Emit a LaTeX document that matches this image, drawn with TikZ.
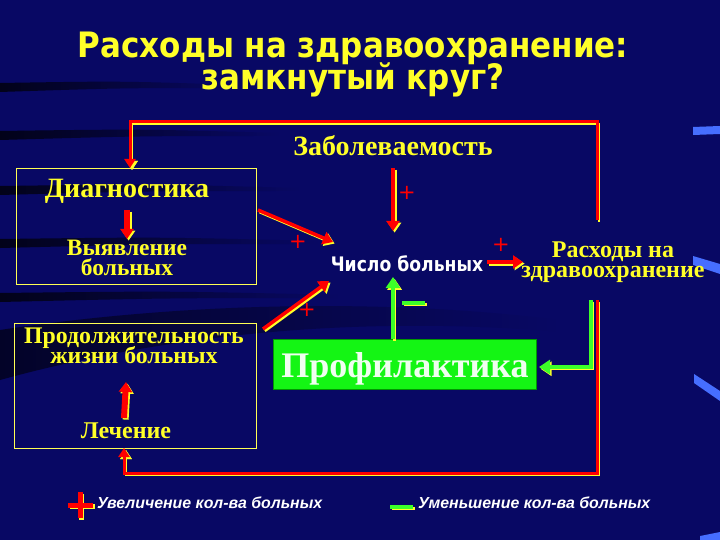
\documentclass[tikz,border=0pt]{standalone}
\usepackage{fontspec}
\setmainfont{Liberation Serif}
\newfontfamily\titlef[FakeStretch=0.885]{DejaVu Sans}
\newfontfamily\sansb{DejaVu Sans}
\newfontfamily\chisf[FakeStretch=0.86]{DejaVu Sans}
\newfontfamily\legf{Liberation Sans}
\newcommand\mynolsl{\lineskiplimit=-30pt\relax}
\usetikzlibrary{arrows.meta}
\definecolor{bg}{RGB}{8,8,100}
\definecolor{ylw}{RGB}{255,255,40}
\definecolor{rd}{RGB}{255,0,0}
\definecolor{grn}{RGB}{60,255,40}
\definecolor{pgrn}{RGB}{20,245,20}
\definecolor{streak}{RGB}{70,110,255}
\tikzset{
  box/.style={draw=ylw!80!white, line width=0.9pt, rectangle, inner sep=0pt},
  ytext/.style={text=ylw, font=\bfseries\fontsize{#1}{20}\selectfont\mynolsl, inner sep=0pt, align=center},
  loopline/.style={draw=rd, line width=3pt, line join=miter,
     preaction={draw=ylw, line width=2.4pt, transform canvas={xshift=2pt,yshift=-2pt}}},
  looparrow/.style={loopline, -{Triangle[length=9pt,width=11pt]},
     preaction={draw=ylw, line width=2.4pt, -{Triangle[length=9pt,width=11pt]}, transform canvas={xshift=2pt,yshift=-2pt}}},
  redarrow/.style={draw=rd, line width=#1, -{Triangle[length=10pt,width=13pt]},
     preaction={draw=ylw, line width=#1, -{Triangle[length=10pt,width=13pt]}, transform canvas={xshift=1.6pt,yshift=-1.6pt}}},
  grnline/.style={draw=grn, line width=4pt,
     preaction={draw=ylw, line width=3pt, transform canvas={xshift=1.6pt,yshift=-1.8pt}}},
  grnarrow/.style={draw=grn, line width=4pt, -{Triangle[length=11pt,width=14pt]},
     preaction={draw=ylw, line width=3pt, -{Triangle[length=11pt,width=14pt]}, transform canvas={xshift=1.6pt,yshift=-1.8pt}}},
  plus/.style={text=rd, font=\sansb\fontsize{21}{21}\selectfont, inner sep=0pt},
  legtext/.style={anchor=base west, text=white, font=\legf\bfseries\itshape\fontsize{15.9}{15.9}\selectfont, inner sep=0pt},
}
\begin{document}
\begin{tikzpicture}[x=1pt,y=-1pt]
% background
\fill[bg] (0,0) rectangle (720,540);
\useasboundingbox (0,0) rectangle (720,540);
% subtle swooshes
\foreach \yy/\len in {87/240,135/280,190/300,243/320,297/340}{
  \shade[left color=black!75!bg, right color=bg, shading angle=90]
     (0,\yy-4) .. controls (\len*0.5,\yy-6) .. (\len,\yy-2) -- (\len,\yy+1) .. controls (\len*0.5,\yy+1) .. (0,\yy+5) -- cycle;
}
\shade[left color=black!60!bg, right color=bg] (0,330) .. controls (200,300) and (400,300) .. (560,320) -- (560,332) .. controls (400,318) and (200,325) .. (0,380) -- cycle;
\fill[streak] (693,127) -- (720,126) -- (720,134) -- (693,135) -- cycle;
\fill[streak] (693,256) -- (720,264) -- (720,274) -- (693,265) -- cycle;
\fill[streak] (694,374) -- (720,391) -- (720,401) -- (694,383) -- cycle;
\fill[streak] (700,536) -- (720,532) -- (720,540) -- (700,540) -- cycle;

% title
\node[anchor=base, text=ylw, font=\titlef\bfseries\fontsize{35}{35}\selectfont, inner sep=0pt] (t1) at (353,58) {Расходы на здравоохранение:};
\node[anchor=base, text=ylw, font=\titlef\bfseries\fontsize{35}{35}\selectfont, inner sep=0pt] (t2) at (353,90) {замкнутый круг?};

% boxes
\node[box, minimum width=240pt, minimum height=116pt] (diag) at (136,226) {};
\node[box, minimum width=242pt, minimum height=125pt] (prod) at (135,385.5) {};
\node[draw=green!60!black, fill=pgrn, line width=0.8pt, minimum width=263pt, minimum height=50pt, inner sep=0pt] (prof) at (404.5,364) {};
\node[anchor=base, text=green!6!white, font=\bfseries\fontsize{36}{36}\selectfont, inner sep=0pt] (proft) at (405,377) {Профилактика};

% texts
\node[ytext=28, anchor=base] (diagt) at (127,198) {Диагностика};
\node[ytext=23.5, anchor=base] (vyyav) at (127,275) {Выявление\\больных};
\node[ytext=23.8, anchor=base] (prodt) at (134,363) {Продолжительность\\жизни больных};
\node[ytext=24, anchor=base] (lech) at (126,438) {Лечение};
\node[ytext=28, anchor=base] (zab) at (393,156) {Заболеваемость};
\node[anchor=base, text=white, font=\chisf\bfseries\fontsize{20}{20}\selectfont, inner sep=0pt] (chislo) at (407,271) {Число больных};
\node[ytext=24, anchor=base] (rash) at (613,277) {Расходы на\\здравоохранение};

% coordinates
\coordinate (a1) at (597,220);
\coordinate (a2) at (597,122);
\coordinate (a3) at (130,122);
\coordinate (a4) at (130,168);
\coordinate (b1) at (597,300);
\coordinate (b2) at (597,473);
\coordinate (b3) at (124,473);
\coordinate (b4) at (124,448);

% loops
\draw[looparrow] (a1) -- (a2) -- (a3) -- (a4);
\draw[looparrow] (b1) -- (b2) -- (b3) -- (b4);

% inner arrows
\coordinate (d1) at (127,210); \coordinate (d2) at (127,239);
\draw[redarrow=6pt] (d1) -- (d2);
\coordinate (l1) at (124,418); \coordinate (l2) at (126,382);
\draw[redarrow=6pt] (l1) -- (l2);

\coordinate (z1) at (393,168); \coordinate (z2) at (393,231);
\draw[redarrow=4pt] (z1) -- (z2);
\coordinate (c1) at (487,262); \coordinate (c2) at (523,262);
\draw[redarrow=4pt] (c1) -- (c2);
\coordinate (e1) at (258,210); \coordinate (e2) at (333,242);
\draw[redarrow=3.5pt] (e1) -- (e2);
\coordinate (f1) at (263,329); \coordinate (f2) at (329,281);
\draw[redarrow=3.5pt] (f1) -- (f2);

% green
\coordinate (g1) at (393,339); \coordinate (g2) at (393,277);
\draw[grnarrow] (g1) -- (g2);
\coordinate (h1) at (591,300); \coordinate (h2) at (591,367); \coordinate (h3) at (539,367);
\draw[grnarrow] (h1) -- (h2) -- (h3);
\coordinate (m1) at (402,303); \coordinate (m2) at (425,303);
\draw[grnline] (m1) -- (m2);

% plus signs
\node[plus] (p1) at (407,193) {+};
\node[plus] (p2) at (501,245) {+};
\node[plus] (p3) at (298,242) {+};
\node[plus] (p4) at (307,310) {+};

% legend
\coordinate (lp1) at (68,505); \coordinate (lp2) at (93,505);
\coordinate (lp3) at (80,492); \coordinate (lp4) at (80,518);
\draw[draw=rd, line width=5pt, preaction={draw=ylw, line width=5pt, transform canvas={xshift=1.6pt,yshift=-1.6pt}}] (lp1) -- (lp2) (lp3) -- (lp4);
\node[legtext] (leg1) at (97,508) {Увеличение кол-ва больных};
\coordinate (lm1) at (390,507); \coordinate (lm2) at (413,507);
\draw[grnline] (lm1) -- (lm2);
\node[legtext] (leg2) at (418,508) {Уменьшение кол-ва больных};
\end{tikzpicture}
\end{document}
